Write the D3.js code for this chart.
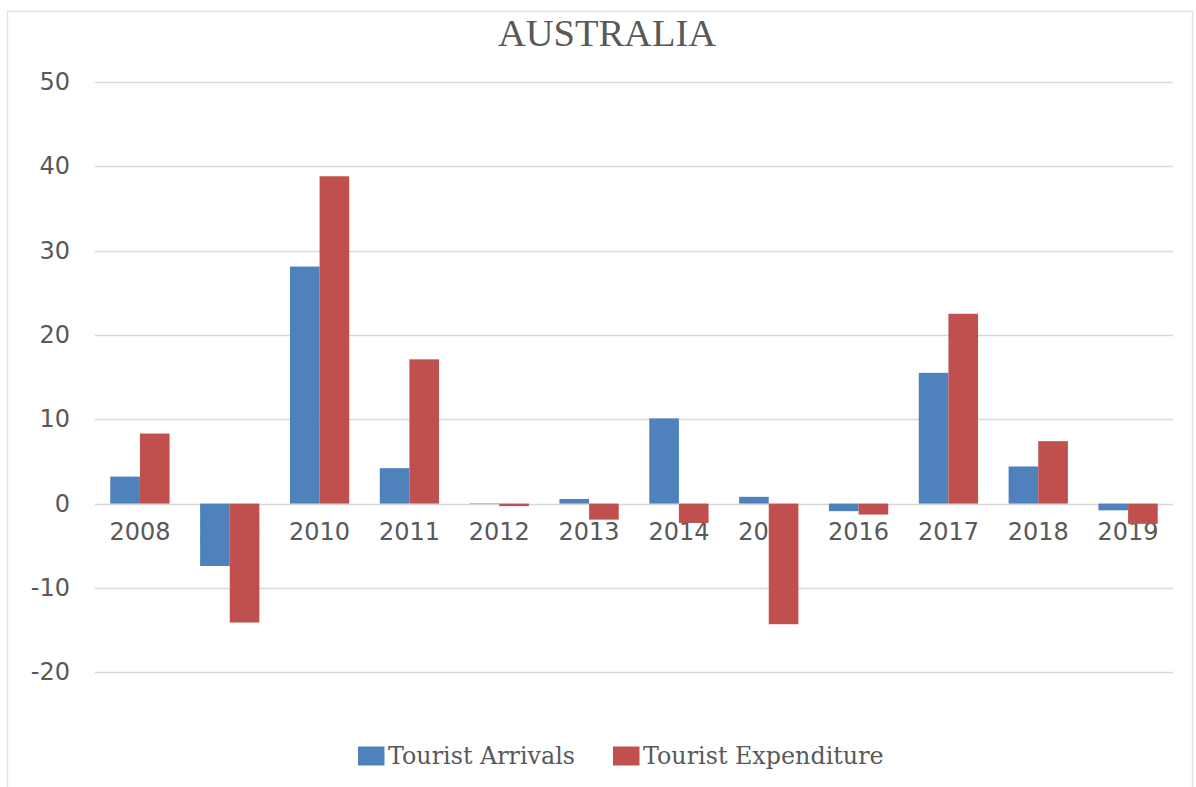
<!DOCTYPE html>
<html>
<head>
<meta charset="utf-8">
<script src="https://cdn.jsdelivr.net/npm/d3@7"></script>
<style>
  html, body { margin: 0; padding: 0; background: #fff; }
  svg { display: block; }
</style>
</head>
<body>
<svg id="chart" width="1196" height="787"></svg>
<script>
const years = ["2008","2009","2010","2011","2012","2013","2014","2015","2016","2017","2018","2019"];
const seriesNames = ["Tourist Arrivals", "Tourist Expenditure"];
const arrivals = [3.2, -7.4, 28.1, 4.2, 0.05, 0.55, 10.1, 0.8, -0.9, 15.5, 4.4, -0.8];
const expenditure = [8.3, -14.1, 38.8, 17.1, -0.3, -1.9, -2.3, -14.3, -1.3, 22.5, 7.4, -2.4];
const yTicks = [-20, -10, 0, 10, 20, 30, 40, 50];
const colors = ["#4f81bd", "#c0504d"];

const svg = d3.select("#chart");
const plot = { left: 95, right: 1173, top: 81.8, bottom: 672.3 };

// outer chart border
svg.append("rect")
  .attr("x", 7.5).attr("y", 11.5)
  .attr("width", 1185).attr("height", 800)
  .attr("fill", "#fff").attr("stroke", "#e3e3e3").attr("stroke-width", 1.5);

const y = d3.scaleLinear().domain([-20, 50]).range([plot.bottom, plot.top]);
const x0 = d3.scaleBand().domain(years).range([plot.left, plot.right]).paddingInner(0.34).paddingOuter(0.17);
const x1 = d3.scaleBand().domain(seriesNames).range([0, x0.bandwidth()]);

// gridlines
svg.append("g").selectAll("line").data(yTicks).join("line")
  .attr("x1", plot.left).attr("x2", plot.right)
  .attr("y1", d => Math.round(y(d)) + 0.5).attr("y2", d => Math.round(y(d)) + 0.5)
  .attr("stroke", "#d9d9d9").attr("stroke-width", 1.5);

// y axis labels
const yAxis = d3.axisLeft(y).tickValues(yTicks).tickSize(0).tickPadding(0).tickFormat(d => String(d));
const gy = svg.append("g").attr("transform", "translate(70,0)").call(yAxis);
gy.select(".domain").remove();
gy.selectAll("text")
  .attr("font-family", "DejaVu Sans").attr("font-size", 24).attr("fill", "#595959");

// x axis labels (under bars)
const xAxis = d3.axisBottom(x0).tickSize(0).tickPadding(0);
const gx = svg.append("g").attr("transform", `translate(0,${y(0)})`).call(xAxis);
gx.select(".domain").remove();
gx.selectAll("text")
  .attr("font-family", "DejaVu Sans").attr("font-size", 24).attr("fill", "#595959")
  .attr("dy", null).attr("y", 36.5);

// bars
const data = years.map((yr, i) => ({ year: yr, values: [arrivals[i], expenditure[i]] }));
const groups = svg.append("g").selectAll("g").data(data).join("g")
  .attr("transform", d => `translate(${x0(d.year)},0)`);
groups.selectAll("rect").data(d => d.values.map((v, k) => ({ v, k })))
  .join("rect")
  .attr("x", d => x1(seriesNames[d.k]))
  .attr("width", x1.bandwidth())
  .attr("y", d => Math.min(y(d.v), y(0)))
  .attr("height", d => Math.abs(y(d.v) - y(0)))
  .attr("fill", d => colors[d.k]);

// title
svg.append("text")
  .attr("x", 607).attr("y", 46)
  .attr("text-anchor", "middle")
  .attr("font-family", "Liberation Serif").attr("font-size", 38.5)
  .attr("fill", "#595959")
  .text("AUSTRALIA");

// legend
const legendX = [358, 613];
const lg = svg.append("g").selectAll("g").data(seriesNames).join("g")
  .attr("transform", (d, i) => `translate(${legendX[i]},746.5)`);
lg.append("rect").attr("width", 26.5).attr("height", 19).attr("fill", (d, i) => colors[i]);
lg.append("text")
  .attr("x", 30).attr("y", 17.5)
  .attr("font-family", "DejaVu Serif").attr("font-size", 23.8)
  .attr("fill", "#595959")
  .text(d => d);
</script>
</body>
</html>
